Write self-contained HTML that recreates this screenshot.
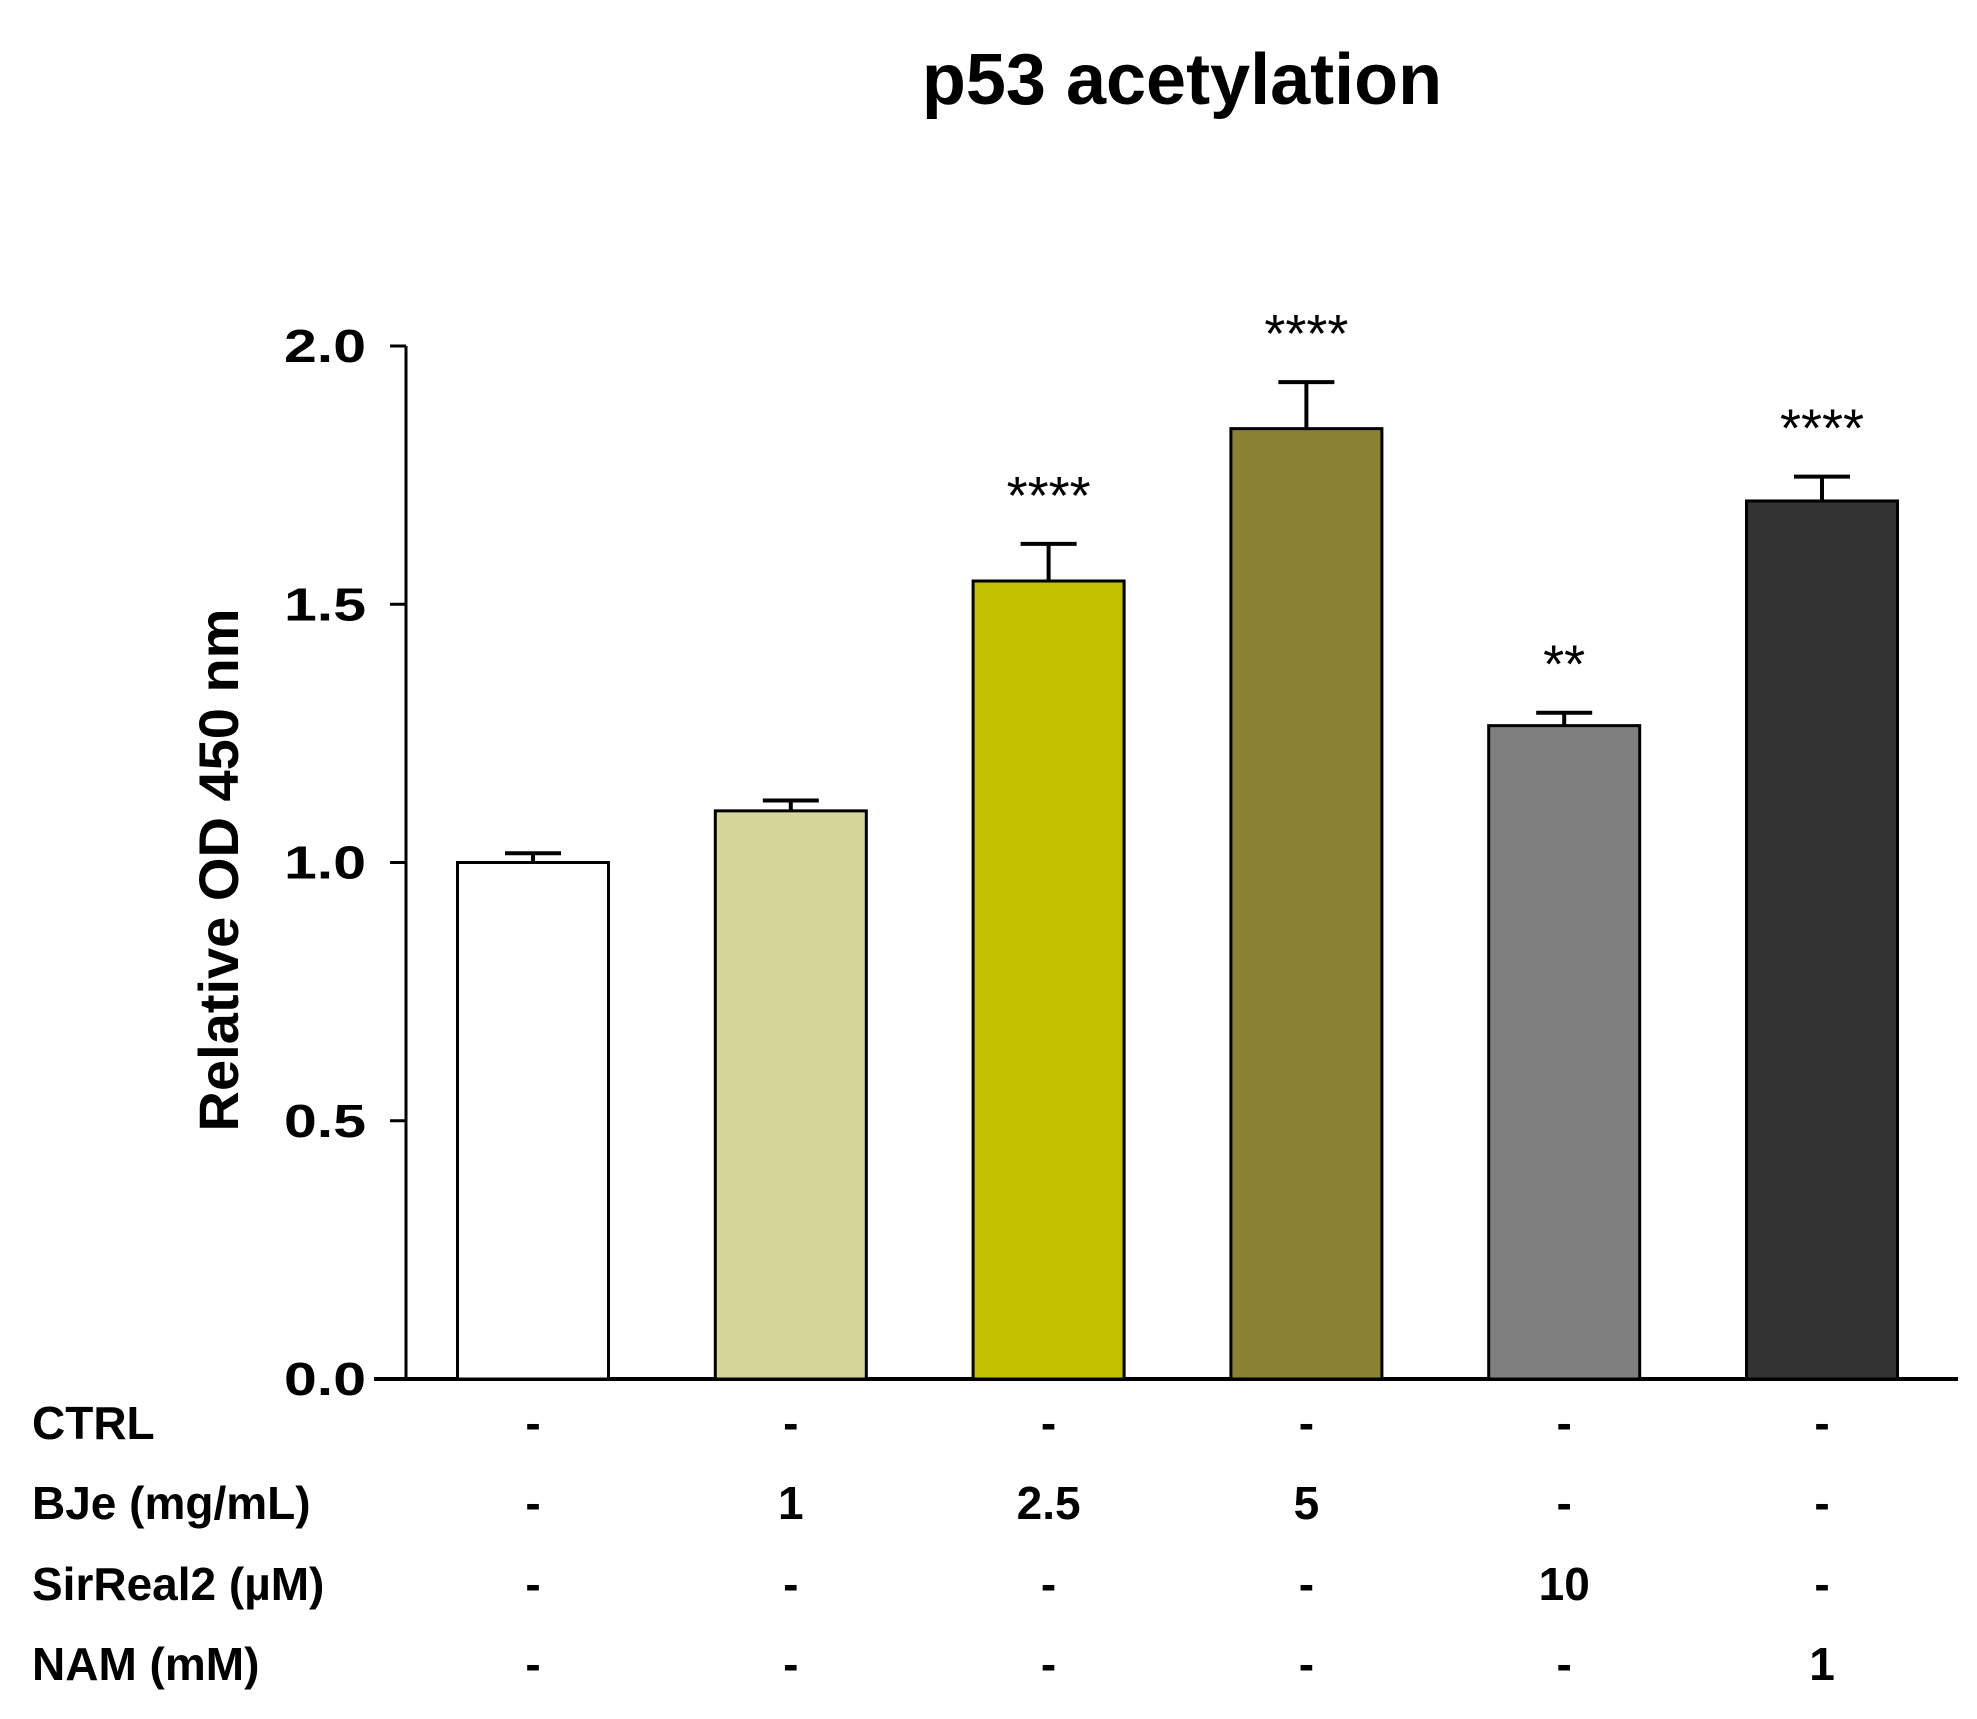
<!DOCTYPE html>
<html><head><meta charset="utf-8"><style>
html,body{margin:0;padding:0;background:#fff;}
svg{display:block;font-family:"Liberation Sans",sans-serif;}
</style></head><body>
<svg id="chart" width="1977" height="1719" viewBox="0 0 1977 1719" xmlns="http://www.w3.org/2000/svg">
<text x="1182" y="104" text-anchor="middle" font-size="72" font-weight="bold">p53 acetylation</text>
<text transform="translate(238,870) rotate(-90)" text-anchor="middle" font-size="56" font-weight="bold">Relative OD 450 nm</text>
<g id="axes"></g><g id="bars"></g><g id="table"></g>
</svg>
<script>
const categories = ["CTRL", "BJe 1", "BJe 2.5", "BJe 5", "SirReal2 10", "NAM 1"];
const values = [1.00, 1.10, 1.545, 1.84, 1.265, 1.70];
const errors = [0.018, 0.02, 0.072, 0.09, 0.025, 0.047];
const stars = ["", "", "****", "****", "**", "****"];
const colors = ["#ffffff", "#d6d69b", "#c2c200", "#8a8232", "#7f7f7f", "#333333"];
const yTicks = [0.0, 0.5, 1.0, 1.5, 2.0];
const yTickLabels = ["0.0", "0.5", "1.0", "1.5", "2.0"];
const rowLabels = ["CTRL", "BJe (mg/mL)", "SirReal2 (\u00b5M)", "NAM (mM)"];
const rowCtrl = ["-", "-", "-", "-", "-", "-"];
const rowBJe = ["-", "1", "2.5", "5", "-", "-"];
const rowSir = ["-", "-", "-", "-", "10", "-"];
const rowNam = ["-", "-", "-", "-", "-", "1"];

const NS = "http://www.w3.org/2000/svg";
const y0 = 1379, yTop = 346, yMax = 2.0;
const xAxisL = 406, xAxisR = 1958;
const firstCenter = 533, step = 257.8, barW = 151;
function y(v){ return y0 - (v / yMax) * (y0 - yTop); }
function xc(i){ return firstCenter + i * step; }
function mk(tag, attrs, parent, text){
  const e = document.createElementNS(NS, tag);
  for (const k in attrs) e.setAttribute(k, attrs[k]);
  if (text !== undefined) e.textContent = text;
  parent.appendChild(e);
  return e;
}
const axes = document.getElementById("axes");
let el = mk("line", {x1: xAxisL, y1: yTop, x2: xAxisL, y2: y0, stroke: "#000", "stroke-width": 3}, axes);


el = mk("line", {x1: 374, y1: y0, x2: xAxisR, y2: y0, stroke: "#000", "stroke-width": 4}, axes);


yTicks.forEach((t, i) => {
  const tk = mk("line", {x1: xAxisL - 16, y1: y(t), x2: xAxisL, y2: y(t), stroke: "#000", "stroke-width": 3}, axes);
  
  
  const lb = mk("text", {x: 366, y: y(t) + 16, "text-anchor": "end", "font-size": 46, "font-weight": "bold", "textLength": 82, "lengthAdjust": "spacingAndGlyphs"}, axes, yTickLabels[i]);
  
  
});
const bars = document.getElementById("bars");
values.forEach((v, i) => {
  const cx = xc(i);
  const eTop = y(v + errors[i]);
  const eb = mk("path", {d: `M${cx},${y(v)} L${cx},${eTop} M${cx - 28},${eTop} L${cx + 28},${eTop}`, stroke: "#000", "stroke-width": 4, fill: "none"}, bars);
  
  
  const r = mk("rect", {x: cx - barW / 2, y: y(v), width: barW, height: y0 - y(v), fill: colors[i], stroke: "#000", "stroke-width": 3}, bars);
  
  
  if (stars[i]) {
    const s = mk("text", {x: cx, y: eTop - 30, "text-anchor": "middle", "font-size": 54}, bars, stars[i]);
    
    
  }
});
const table = document.getElementById("table");
const rows = [rowCtrl, rowBJe, rowSir, rowNam];
const rowY = [1447, 1527, 1608, 1688];
rowLabels.forEach((lab, r) => {
  const t = mk("text", {x: 32, y: rowY[r] - 8, "font-size": 46, "font-weight": "bold"}, table, lab);
  
  
  rows[r].forEach((val, i) => {
    const c = mk("text", {x: xc(i), y: rowY[r] - 8, "text-anchor": "middle", "font-size": 46, "font-weight": "bold"}, table, val);
    
    
  });
});
</script>
</body></html>
